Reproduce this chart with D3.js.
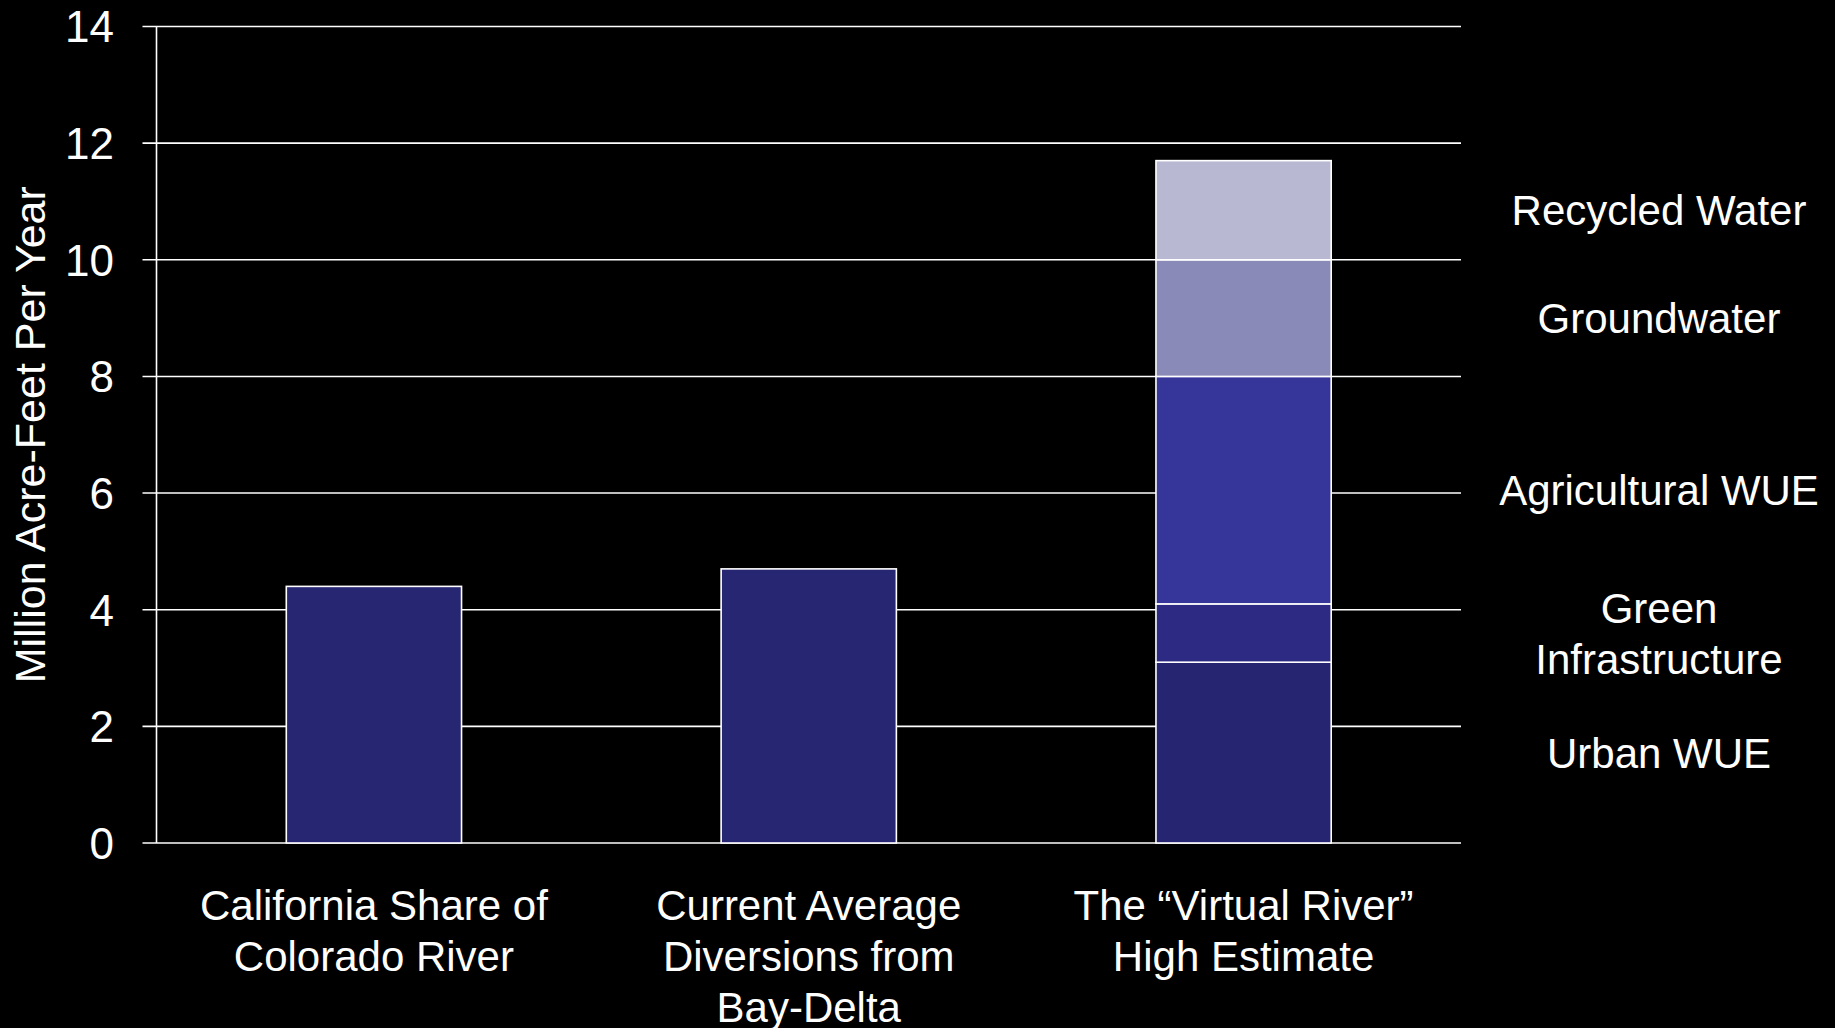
<!DOCTYPE html>
<html>
<head>
<meta charset="utf-8">
<script src="https://cdn.jsdelivr.net/npm/d3@7"></script>
<style>
  html, body { margin: 0; padding: 0; background: #000; }
  svg { display: block; }
  text { font-family: "Liberation Sans", Arial, sans-serif; fill: #fff; }
</style>
</head>
<body>
<svg id="chart" width="1835" height="1028"></svg>
<script>
// ---- data ----
const categories = [
  ["California Share of", "Colorado River"],
  ["Current Average", "Diversions from", "Bay-Delta"],
  ["The \u201cVirtual River\u201d", "High Estimate"]
];
const singleValues = [4.4, 4.7, null];
const stackSeries = ["Urban WUE", "Green Infrastructure", "Agricultural WUE", "Groundwater", "Recycled Water"];
const stackLabelLines = [["Urban WUE"], ["Green", "Infrastructure"], ["Agricultural WUE"], ["Groundwater"], ["Recycled Water"]];
const stackValues = [3.1, 1.0, 3.9, 2.0, 1.7];
const stackColors = ["#262572", "#2c2a83", "#363599", "#8a8ab8", "#b8b8d3"];
const singleColor = "#272673";
const yTicks = [0, 2, 4, 6, 8, 10, 12, 14];
const yTitle = "Million Acre-Feet Per Year";

// ---- layout ----
const svg = d3.select("#chart");
const mLeft = 156.5, mRight = 1461, mTop = 26.5, mBottom = 843;
const fs = 42;

const x = d3.scaleBand().domain(d3.range(categories.length)).range([mLeft, mRight]).padding(0);
const y = d3.scaleLinear().domain([0, 14]).range([mBottom, mTop]);
const barW = x.bandwidth() * 0.403;

// gridlines + ticks
const g = svg.append("g");
g.selectAll("line.grid").data(yTicks).enter().append("line")
  .attr("x1", mLeft - 14).attr("x2", mRight)
  .attr("y1", d => y(d)).attr("y2", d => y(d))
  .attr("stroke", "#fff").attr("stroke-width", 1.6);
// axis line
g.append("line").attr("x1", mLeft).attr("x2", mLeft).attr("y1", y(14)).attr("y2", y(0))
  .attr("stroke", "#fff").attr("stroke-width", 1.6);
// tick labels
g.selectAll("text.tick").data(yTicks).enter().append("text")
  .attr("x", 114).attr("y", d => y(d)).attr("dy", "0.36em")
  .attr("text-anchor", "end").attr("font-size", 44).text(d => d);

// y title
svg.append("text")
  .attr("transform", `translate(45,${(y(0)+y(14))/2}) rotate(-90)`)
  .attr("text-anchor", "middle").attr("font-size", 43).text(yTitle);

// single bars
svg.selectAll("rect.single").data(singleValues.map((v,i)=>({v,i})).filter(d=>d.v!=null)).enter()
  .append("rect")
  .attr("x", d => x(d.i) + x.bandwidth()/2 - barW/2)
  .attr("width", barW)
  .attr("y", d => y(d.v)).attr("height", d => y(0) - y(d.v))
  .attr("fill", singleColor).attr("stroke", "#fff").attr("stroke-width", 1.6);

// stacked bar
const stackIdx = 2;
let cum = 0;
const segs = stackValues.map((v, k) => { const s = {k, y0: cum, y1: cum + v}; cum += v; return s; });
svg.selectAll("rect.stack").data(segs).enter().append("rect")
  .attr("x", x(stackIdx) + x.bandwidth()/2 - barW/2)
  .attr("width", barW)
  .attr("y", d => y(d.y1)).attr("height", d => y(d.y0) - y(d.y1))
  .attr("fill", d => stackColors[d.k]).attr("stroke", "#fff").attr("stroke-width", 1.6);

// stack labels on the right
const lx = 1659;
segs.forEach(s => {
  const lines = stackLabelLines[s.k];
  const cy = y((s.y0 + s.y1) / 2);
  const lh = 51;
  lines.forEach((t, j) => {
    svg.append("text").attr("x", lx)
      .attr("y", cy + (j - (lines.length - 1) / 2) * lh).attr("dy", "0.36em")
      .attr("text-anchor", "middle").attr("font-size", fs).text(t);
  });
});

// category labels
categories.forEach((lines, i) => {
  lines.forEach((t, j) => {
    svg.append("text").attr("x", x(i) + x.bandwidth()/2)
      .attr("y", 920 + j * 51)
      .attr("text-anchor", "middle").attr("font-size", fs).text(t);
  });
});
</script>
</body>
</html>
